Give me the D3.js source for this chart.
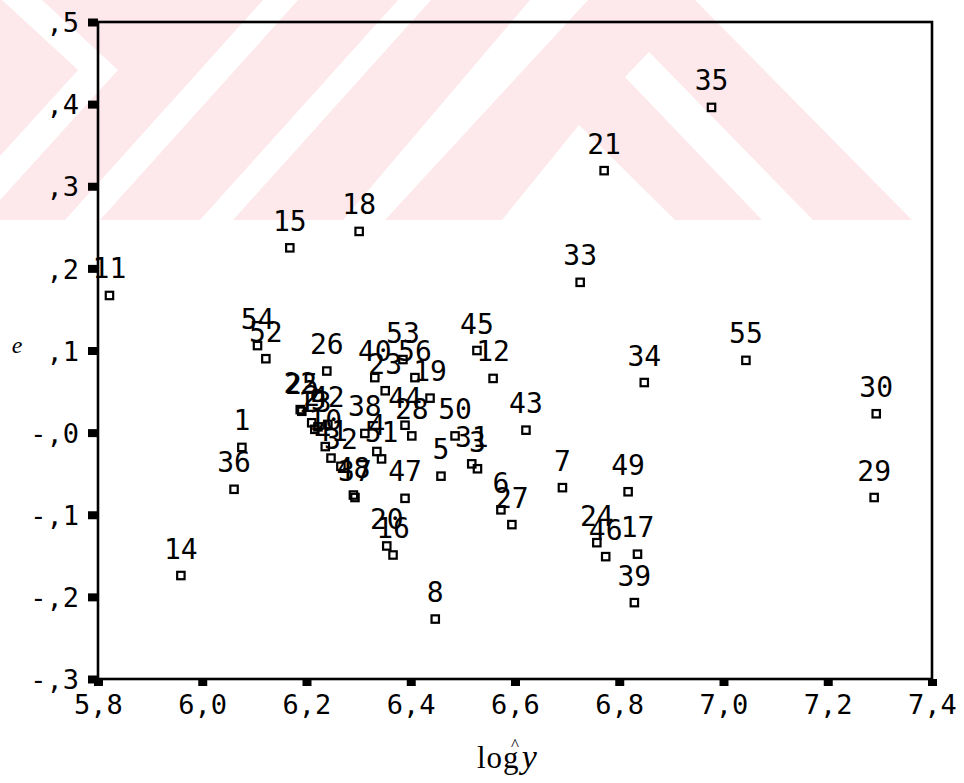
<!DOCTYPE html>
<html>
<head>
<meta charset="utf-8">
<script src="https://cdn.jsdelivr.net/npm/d3@7"></script>
<style>
  html, body { margin: 0; padding: 0; background: #ffffff; }
  svg { display: block; }
  .tick text { font-family: "DejaVu Sans Mono", monospace; font-size: 27px; fill: #000; }
  .pt-label { font-family: "DejaVu Sans Mono", monospace; font-size: 28px; fill: #000; }
</style>
</head>
<body>
<svg id="chart" width="964" height="783"></svg>
<script>
// Case numbers, fitted log values and residuals
const caseIds = [
  1, 2, 3, 4, 5, 6, 7, 8, 9, 10,
  11, 12, 13, 14, 15, 16, 17, 18, 19, 20,
  21, 22, 23, 24, 25, 26, 27, 28, 29, 30,
  31, 32, 33, 34, 35, 36, 37, 38, 39, 40,
  41, 42, 43, 44, 45, 46, 47, 48, 49, 50,
  51, 52, 53, 54, 55, 56
];
const fittedLogY = [
  6.076, 6.210, 6.528, 6.335, 6.458, 6.573, 6.691, 6.447, 6.222, 6.236,
  5.822, 6.558, 6.216, 5.959, 6.168, 6.366, 6.835, 6.301, 6.437, 6.354,
  6.771, 6.188, 6.351, 6.757, 6.191, 6.239, 6.594, 6.402, 7.289, 7.293,
  6.517, 6.266, 6.725, 6.848, 6.977, 6.061, 6.293, 6.312, 6.829, 6.331,
  6.247, 6.241, 6.621, 6.389, 6.527, 6.774, 6.389, 6.290, 6.817, 6.485,
  6.344, 6.122, 6.385, 6.106, 7.043, 6.408
];
const residualE = [
  -0.018, 0.012, -0.044, -0.023, -0.053, -0.094, -0.067, -0.227, 0.007, -0.017,
  0.167, 0.066, 0.004, -0.174, 0.225, -0.149, -0.148, 0.245, 0.042, -0.138,
  0.319, 0.028, 0.051, -0.134, 0.026, 0.075, -0.112, -0.004, -0.079, 0.023,
  -0.038, -0.041, 0.183, 0.061, 0.396, -0.069, -0.079, -0.001, -0.207, 0.067,
  -0.031, 0.010, 0.003, 0.009, 0.100, -0.151, -0.080, -0.076, -0.072, -0.004,
  -0.032, 0.090, 0.089, 0.106, 0.088, 0.067
];

// Axis ticks and their printed labels
const xTickValues = [5.8, 6.0, 6.2, 6.4, 6.6, 6.8, 7.0, 7.2, 7.4];
const xTickLabels = ["5,8", "6,0", "6,2", "6,4", "6,6", "6,8", "7,0", "7,2", "7,4"];
const yTickValues = [0.5, 0.4, 0.3, 0.2, 0.1, 0.0, -0.1, -0.2, -0.3];
const yTickLabels = [",5", ",4", ",3", ",2", ",1", "-,0", "-,1", "-,2", "-,3"];

const svg = d3.select("#chart");

// Background stamp: pink band with white diagonal stripes
const stamp = svg.append("g").attr("class", "stamp");
const pink = "#fde8eb";
stamp.append("polygon")
  .attr("points", [[0, 0], [695, 0], [912, 220], [0, 220]].join(" "))
  .attr("fill", pink);
const whiteShapes = [
  [[2, 0], [42, 0], [118, 70], [0, 200], [0, 156], [78, 70]],
  [[65, 220], [100, 220], [298, 0], [263, 0]],
  [[200, 220], [233, 220], [431, 0], [398, 0]],
  [[343, 220], [385, 220], [588, 0], [530, 0]],
  [[502, 220], [579, 125], [675, 220]],
  [[625, 77], [649, 52], [813, 220], [762, 220]]
];
stamp.selectAll("polygon.cut")
  .data(whiteShapes)
  .join("polygon")
  .attr("class", "cut")
  .attr("points", d => d.join(" "))
  .attr("fill", "#ffffff");

// Plot frame
const plotLeft = 98, plotRight = 932, plotTop = 22, plotBottom = 679;
const x = d3.scaleLinear().domain([5.8, 7.4]).range([plotLeft, plotRight]);
const y = d3.scaleLinear().domain([-0.3, 0.5]).range([plotBottom, plotTop]);

const xAxis = d3.axisBottom(x)
  .tickValues(xTickValues)
  .tickFormat((d, i) => xTickLabels[i])
  .tickSizeInner(7)
  .tickSizeOuter(0)
  .tickPadding(9);
const yAxis = d3.axisLeft(y)
  .tickValues(yTickValues)
  .tickFormat((d, i) => yTickLabels[i])
  .tickSizeInner(10)
  .tickSizeOuter(0)
  .tickPadding(9);

const gx = svg.append("g").attr("transform", `translate(0,${plotBottom})`).call(xAxis);
const gy = svg.append("g").attr("transform", `translate(${plotLeft},0)`).call(yAxis);
gx.select(".domain").remove();
gy.select(".domain").remove();
gx.selectAll(".tick line").attr("stroke", "#000").attr("stroke-width", 9);
gy.selectAll(".tick line").attr("stroke", "#000").attr("stroke-width", 8);
gy.selectAll(".tick text").attr("dy", "0.36em");

svg.append("rect")
  .attr("x", plotLeft).attr("y", plotTop)
  .attr("width", plotRight - plotLeft).attr("height", plotBottom - plotTop)
  .attr("fill", "none")
  .attr("stroke", "#000")
  .attr("stroke-width", 2.6);

// Points: hollow squares with case numbers above
const points = caseIds.map((id, i) => ({ id, xv: fittedLogY[i], yv: residualE[i] }));
const size = 7.4;
svg.append("g").selectAll("rect")
  .data(points)
  .join("rect")
  .attr("x", d => x(d.xv) - size / 2)
  .attr("y", d => y(d.yv) - size / 2)
  .attr("width", size)
  .attr("height", size)
  .attr("fill", "none")
  .attr("stroke", "#000")
  .attr("stroke-width", 2.2);

svg.append("g").selectAll("text")
  .data(points)
  .join("text")
  .attr("class", "pt-label")
  .attr("x", d => x(d.xv))
  .attr("y", d => y(d.yv) - 17)
  .attr("text-anchor", "middle")
  .text(d => d.id);

// Axis titles
svg.append("text")
  .attr("x", 17).attr("y", 353)
  .attr("text-anchor", "middle")
  .attr("font-family", "'Liberation Serif', 'DejaVu Serif', serif")
  .attr("font-style", "italic")
  .attr("font-size", 24)
  .text("e");

const xt = svg.append("text")
  .attr("x", 477).attr("y", 768)
  .attr("font-family", "'Liberation Serif', 'DejaVu Serif', serif")
  .attr("font-size", 31)
  .attr("letter-spacing", 1);
xt.append("tspan").text("log");
xt.append("tspan").attr("dx", 2).attr("font-style", "italic").attr("font-size", 34).text("y");

svg.append("text")
  .attr("x", 515).attr("y", 750)
  .attr("text-anchor", "middle")
  .attr("font-family", "'Liberation Serif', 'DejaVu Serif', serif")
  .attr("font-size", 17)
  .text("^");
</script>
</body>
</html>
